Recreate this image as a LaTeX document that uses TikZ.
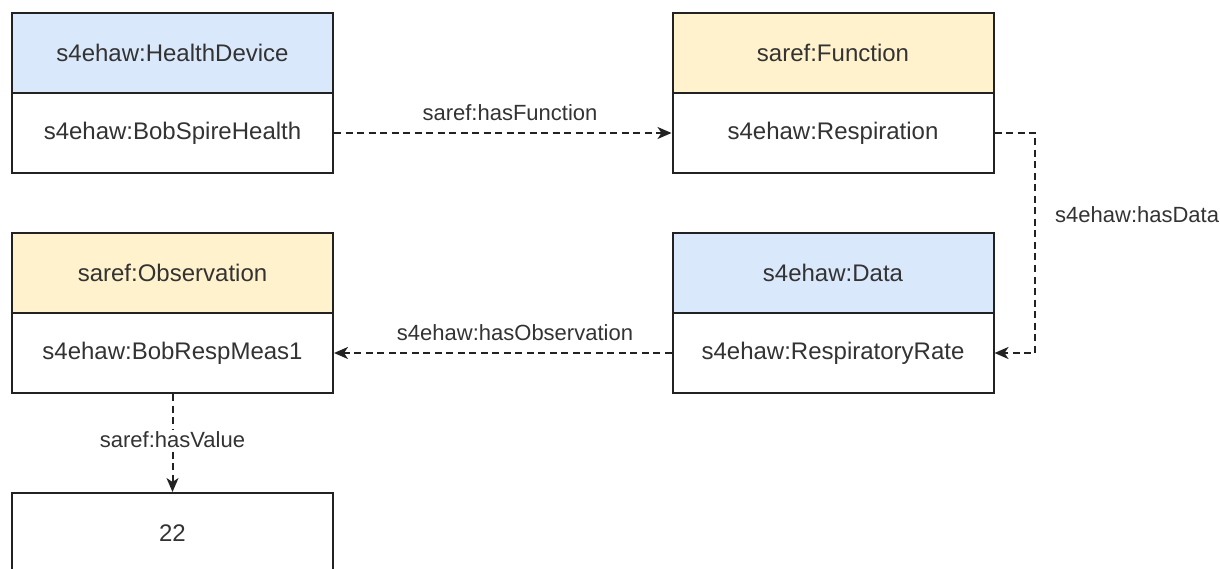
\documentclass[tikz,border=0pt]{standalone}
\usepackage{fontspec}
\setmainfont{Liberation Sans}
\usetikzlibrary{arrows.meta}
\definecolor{hdrblue}{HTML}{DAE8FC}
\definecolor{hdryellow}{HTML}{FFF2CC}
\definecolor{edge}{HTML}{222222}
\definecolor{txt}{HTML}{333333}
\tikzset{
  cell/.style={draw=edge, line width=2pt, minimum width=321pt, minimum height=80pt,
    inner sep=0pt, text=txt, font=\fontsize{24}{28}\selectfont, fill=white},
  conn/.style={draw=edge, line width=2pt, dash pattern=on 7pt off 4.5pt,
    -{Stealth[length=14pt,width=12pt,inset=4pt]}},
  lbl/.style={text=txt, font=\fontsize{22}{26}\selectfont, inner sep=2pt}
}
\begin{document}
\begin{tikzpicture}[x=1pt,y=-1pt]
\useasboundingbox (0,0) rectangle (1220,569);
% top-left
\node[cell, fill=hdrblue] (hdev) at (172.5,53) {s4ehaw:HealthDevice};
\node[cell] (bob) at (172.5,133) {s4ehaw:BobSpireHealth};
% top-right
\node[cell, fill=hdryellow] (func) at (833,53) {saref:Function};
\node[cell] (resp) at (833,133) {s4ehaw:Respiration};
% bottom-right
\node[cell, fill=hdrblue] (data) at (833,273) {s4ehaw:Data};
\node[cell] (rate) at (833,353) {s4ehaw:RespiratoryRate};
% bottom-left
\node[cell, fill=hdryellow] (obs) at (172.5,273) {saref:Observation};
\node[cell] (meas) at (172.5,353) {s4ehaw:BobRespMeas1};
% value
\node[cell] (val) at (172.5,533) {22};
% connectors
\draw[conn] (bob.east) -- (resp.west);
\node[lbl] (lfun) at (510,113) {saref:hasFunction};
\coordinate (c1) at (1035,133);
\draw[conn] (resp.east) -- (c1) |- (rate.east);
\node[lbl, anchor=west] (ldata) at (1053,215) {s4ehaw:hasData};
\draw[conn] (rate.west) -- (meas.east);
\node[lbl] (lobs) at (515,333) {s4ehaw:hasObservation};
\draw[conn] (meas.south) -- (val.north);
\node[lbl, fill=white] (lval) at (172.5,440) {saref:hasValue};
\end{tikzpicture}
\end{document}
